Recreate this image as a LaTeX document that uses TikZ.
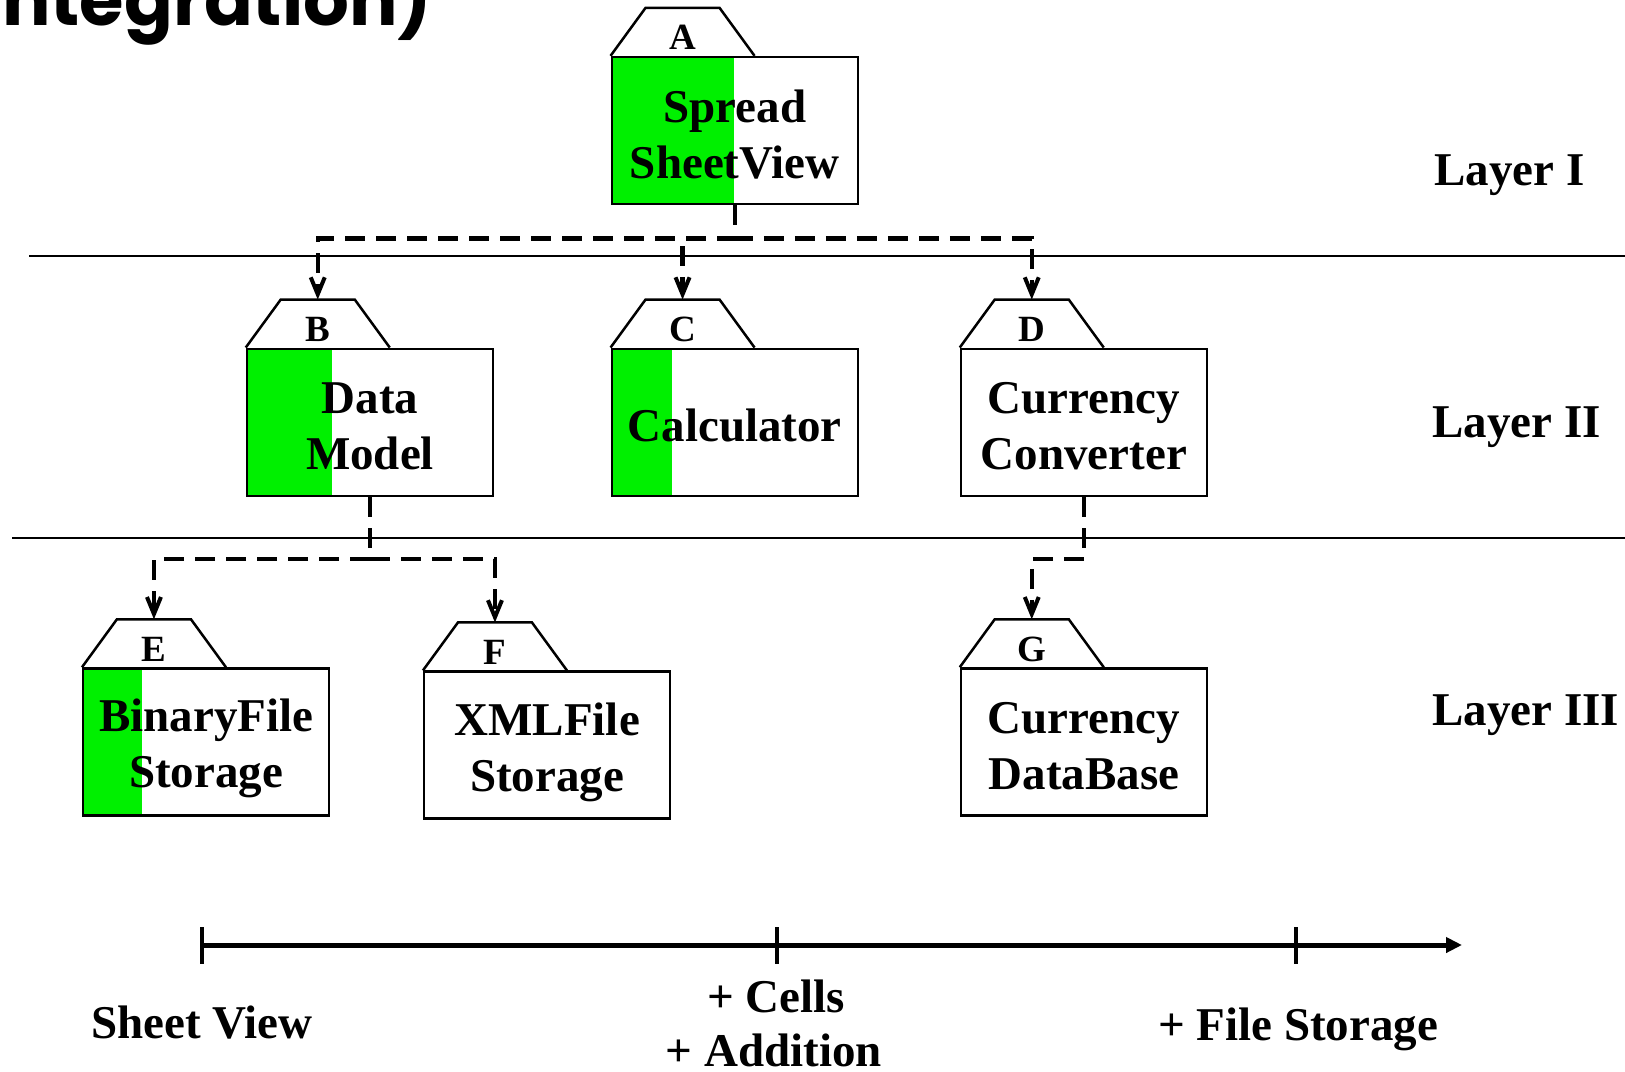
\documentclass[tikz,border=0pt]{standalone}
\usepackage{fontspec}
\setmainfont{Liberation Serif}
\newfontfamily\titlefont{Poppins}
\usetikzlibrary{arrows.meta}
\definecolor{modgreen}{RGB}{0,240,0}
\newcommand\modulebox[6]{%
  \node[box, path picture={\fill[modgreen] (path picture bounding box.north west) rectangle ([xshift=#6]path picture bounding box.south west);}] (#1) at (#2) {};
  \node[boxtext] (#1-text) at ([yshift=#3]#1.center) {#5};
  \coordinate (#1-tl) at ([xshift=35pt,yshift=48pt]#1.north west);
  \coordinate (#1-tr) at ([xshift=109pt,yshift=48pt]#1.north west);
  \coordinate (#1-br) at ([xshift=144pt]#1.north west);
  \coordinate (#1-top) at ([xshift=72pt,yshift=48pt]#1.north west);
  \draw[tabline] (#1.north west) -- (#1-tl) -- (#1-tr) -- (#1-br);
  \node[letter, anchor=base] (#1-lab) at ([xshift=72pt,yshift=6pt]#1.north west) {#4};
}
\begin{document}
\begin{tikzpicture}[x=1pt,y=-1pt,
  box/.style={draw, line width=2.5pt, fill=white, minimum width=246pt, minimum height=147pt, inner sep=0pt},
  boxtext/.style={inner sep=0pt, align=center, font=\bfseries\fontsize{47}{56}\selectfont},
  tabline/.style={draw, line width=2.5pt, line join=miter},
  letter/.style={inner sep=0pt, font=\bfseries\fontsize{37}{40}\selectfont},
  dep/.style={line width=4.5pt, dash pattern=on 20pt off 11pt, -{Straight Barb[length=17pt,width=14pt,line width=4pt]}},
  sepline/.style={line width=2.5pt},
  timeline/.style={line width=5pt},
  tick/.style={line width=4pt},
  layer/.style={anchor=west, inner sep=0pt, font=\bfseries\fontsize{47}{56}\selectfont},
  tlabel/.style={inner sep=0pt, font=\bfseries\fontsize{47}{56}\selectfont},
]
\useasboundingbox (0,0) rectangle (1625,1071);
\fill[white] (0,0) rectangle (1625,1071);

% title fragment (cut off at the top edge, as in the source slide)
\node[anchor=base west, inner sep=0pt, font=\titlefont\bfseries\fontsize{72}{80}\selectfont] (title) at (2,25) {ntegration)};

% separators
\coordinate (s1a) at (29,256);
\coordinate (s1b) at (1625,256);
\coordinate (s2a) at (12,538);
\coordinate (s2b) at (1625,538);
\draw[sepline] (s1a) -- (s1b);
\draw[sepline] (s2a) -- (s2b);

% modules
\modulebox{A}{734.8,130.6}{-4pt}{A}{Spread\\SheetView}{122pt}
\modulebox{B}{370,422.3}{-4pt}{B}{Data\\Model}{85pt}
\modulebox{C}{734.8,422.3}{-3pt}{C}{Calculator}{60pt}
\modulebox{D}{1084,422.3}{-4pt}{D}{Currency\\Converter}{0pt}
\modulebox{E}{206.2,742}{-6pt}{E}{BinaryFile\\Storage}{59pt}
\modulebox{F}{547.2,745.2}{-7pt}{F}{XMLFile\\Storage}{0pt}
\modulebox{G}{1084,742}{-4pt}{G}{Currency\\DataBase}{0pt}

% dependencies
\draw[dep] (A.south) -- ++(0,33) -| (B-top);
\draw[dep] (A.south) -- ++(0,33) -| (C-top);
\draw[dep] (A.south) -- ++(0,33) -| (D-top);
\draw[dep] (B.south) -- ++(0,62) -| (E-top);
\draw[dep] (B.south) -- ++(0,62) -| (F-top);
\draw[dep] (D.south) -- ++(0,62) -| (G-top);

% layer labels
\node[layer] (L1) at (1434,175) {Layer I};
\node[layer] (L2) at (1432,427) {Layer II};
\node[layer] (L3) at (1432,715) {Layer III};

% timeline
\coordinate (t0) at (202,945);
\coordinate (t1) at (777,945);
\coordinate (t2) at (1296,945);
\coordinate (tend) at (1462,945);
\draw[timeline, -{Triangle[length=16pt,width=15pt]}] (t0) -- (tend);
\draw[tick] ([yshift=18pt]t0) -- ([yshift=-19pt]t0);
\draw[tick] ([yshift=18pt]t1) -- ([yshift=-19pt]t1);
\draw[tick] ([yshift=18pt]t2) -- ([yshift=-19pt]t2);
\node[tlabel] (v0) at (202,1023) {Sheet View};
\node[tlabel] (v1) at (776,996) {+ Cells};
\node[tlabel] (v1b) at (774,1050) {+ Addition};
\node[tlabel] (v2) at (1298,1029) {+ File Storage};
\end{tikzpicture}
\end{document}
